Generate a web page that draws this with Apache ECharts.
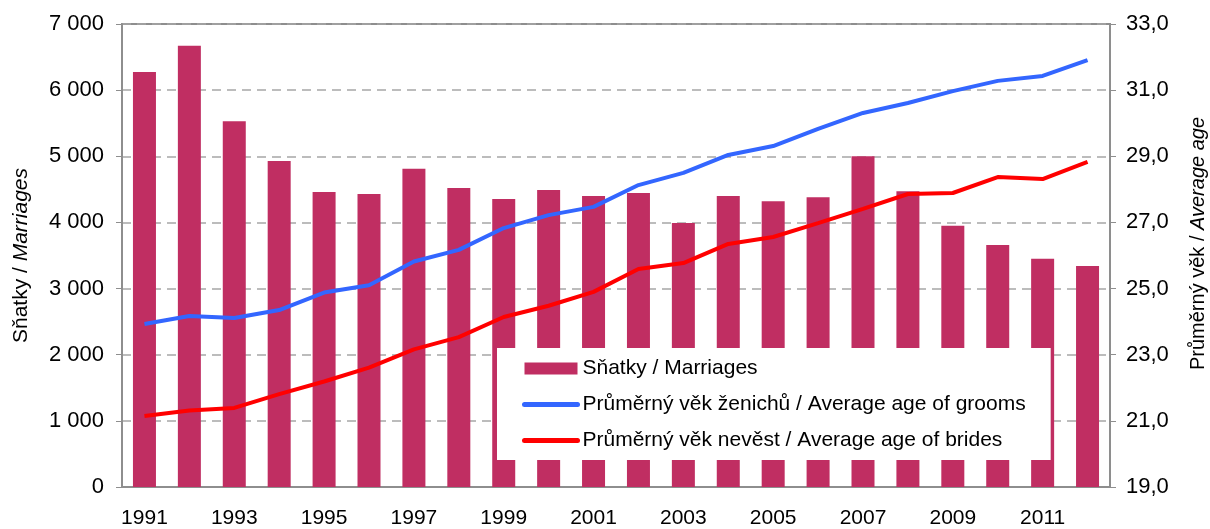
<!DOCTYPE html>
<html>
<head>
    <meta charset="utf-8">
    <title>Sňatky / Marriages</title>
    <script src="https://cdn.jsdelivr.net/npm/echarts@6/dist/echarts.min.js"></script>
    <style>
        html, body { margin: 0; padding: 0; background: #fff; }
        #chart1 { width: 1210px; height: 529px; }
    </style>
</head>
<body>
<div id="chart1"></div>
<script>
    // data
    var years = ['1991', '1992', '1993', '1994', '1995', '1996', '1997', '1998', '1999', '2000', '2001',
        '2002', '2003', '2004', '2005', '2006', '2007', '2008', '2009', '2010', '2011', '2012'];
    var marriages = [6275, 6670, 5530, 4930, 4460, 4430, 4810, 4520, 4355, 4490, 4400,
        4445, 3990, 4400, 4320, 4380, 5000, 4470, 3950, 3660, 3450, 3340];
    var ageGrooms = [23.93, 24.17, 24.11, 24.35, 24.88, 25.10, 25.82, 26.17, 26.83, 27.22, 27.47,
        28.13, 28.50, 29.04, 29.31, 29.83, 30.31, 30.61, 30.97, 31.28, 31.43, 31.91];
    var ageBrides = [21.15, 21.31, 21.39, 21.81, 22.19, 22.61, 23.16, 23.53, 24.14, 24.48, 24.90,
        25.59, 25.77, 26.35, 26.56, 26.98, 27.41, 27.86, 27.89, 28.37, 28.31, 28.83];
    var ageTicks = [19, 21, 23, 25, 27, 29, 31, 33];

    var gray = '#8e8e8e';
    var font = '"Liberation Sans", Arial, sans-serif';

    var myChart1 = echarts.init(document.getElementById('chart1'));

    myChart1.setOption({
        animation: false,
        textStyle: { fontFamily: font, color: '#000' },
        grid: {
            left: 122, right: 100, top: 24, bottom: 42,
            outerBoundsMode: 'none',
            show: true, borderColor: gray, borderWidth: 2, backgroundColor: '#fff'
        },
        legend: {
            orient: 'vertical',
            left: 497, top: 348,
            padding: [10, 25, 9, 25],
            itemWidth: 53, itemHeight: 12, itemGap: 15,
            backgroundColor: '#fff',
            z: 10,
            textStyle: { fontFamily: font, fontSize: 21, color: '#000' },
            data: [
                { name: 'Sňatky / Marriages', icon: 'rect' },
                {
                    name: 'Průměrný věk ženichů / Average age of grooms',
                    itemStyle: { opacity: 0 },
                    lineStyle: { width: 5, cap: 'round' }
                },
                {
                    name: 'Průměrný věk nevěst / Average age of brides',
                    itemStyle: { opacity: 0 },
                    lineStyle: { width: 5, cap: 'round' }
                }
            ]
        },
        xAxis: {
            type: 'category',
            data: years,
            boundaryGap: true,
            axisLine: { lineStyle: { color: gray, width: 2 } },
            axisTick: { interval: 0, length: 6, lineStyle: { color: gray, width: 1 } },
            axisLabel: { interval: 1, margin: 21, fontSize: 21, color: '#000', fontFamily: font }
        },
        yAxis: [{
            type: 'value',
            min: 0, max: 7000, interval: 1000,
            name: 'Sňatky / {i|Marriages}',
            nameLocation: 'middle',
            nameGap: 90,
            nameTextStyle: {
                fontSize: 21, color: '#000', fontFamily: font,
                rich: { i: { fontSize: 21, fontStyle: 'italic', color: '#000', fontFamily: font } }
            },
            axisLine: { show: true, lineStyle: { color: gray, width: 2 } },
            axisTick: { show: true, length: 6, lineStyle: { color: gray } },
            axisLabel: {
                margin: 18, fontSize: 22, color: '#000', fontFamily: font,
                formatter: function (v) {
                    if (v < 1000) return String(v);
                    return Math.floor(v / 1000) + ' ' + String(v % 1000).padStart(3, '0');
                }
            },
            splitLine: { show: true, lineStyle: { color: '#a6a6a6', width: 1.5, type: [9, 6] } }
        }, {
            type: 'value',
            position: 'right',
            min: 19, max: 33,
            name: 'Průměrný věk / {i|Average age}',
            nameLocation: 'middle',
            nameGap: 78,
            nameTextStyle: {
                fontSize: 20, color: '#000', fontFamily: font,
                padding: [0, 0, 0, 24],
                rich: { i: { fontSize: 20, fontStyle: 'italic', color: '#000', fontFamily: font } }
            },
            axisLine: { show: true, lineStyle: { color: gray, width: 2 } },
            axisTick: { show: true, length: 6, customValues: ageTicks, lineStyle: { color: gray } },
            axisLabel: {
                margin: 16, fontSize: 22, color: '#000', fontFamily: font,
                customValues: ageTicks,
                formatter: function (v) { return v.toFixed(1).replace('.', ','); }
            },
            splitLine: { show: false }
        }],
        series: [{
            name: 'Sňatky / Marriages',
            type: 'bar',
            yAxisIndex: 0,
            barWidth: 23,
            itemStyle: { color: '#c02e62' },
            data: marriages
        }, {
            name: 'Průměrný věk ženichů / Average age of grooms',
            type: 'line',
            yAxisIndex: 1,
            symbol: 'none',
            lineStyle: { color: '#3366ff', width: 4 },
            itemStyle: { color: '#3366ff' },
            data: ageGrooms
        }, {
            name: 'Průměrný věk nevěst / Average age of brides',
            type: 'line',
            yAxisIndex: 1,
            symbol: 'none',
            lineStyle: { color: '#ff0000', width: 4 },
            itemStyle: { color: '#ff0000' },
            data: ageBrides
        }]
    });
</script>
</body>
</html>
